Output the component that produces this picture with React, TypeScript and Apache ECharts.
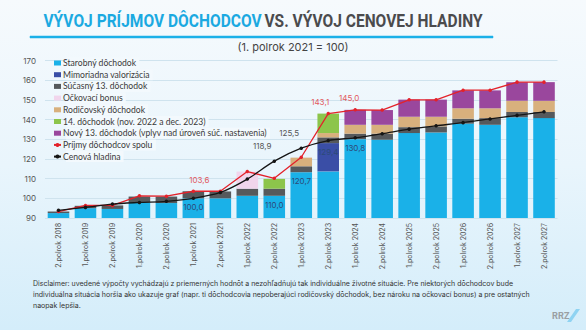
import React, { useEffect, useRef } from 'react';
import * as echarts from 'echarts';

const categories = [
  '2.polrok 2018', '1.polrok 2019', '2.polrok 2019', '1.polrok 2020', '2.polrok 2020',
  '1.polrok 2021', '2.polrok 2021', '1.polrok 2022', '2.polrok 2022', '1.polrok 2023',
  '2.polrok 2023', '1.polrok 2024', '2.polrok 2024', '1.polrok 2025', '2.polrok 2025',
  '1.polrok 2026', '2.polrok 2026', '1.polrok 2027', '2.polrok 2027',
];

const starobny = [92.5, 95.0, 94.6, 97.9, 97.6, 100.0, 100.0, 101.3, 101.3, 113.3, 113.7, 130.1, 129.8, 133.2, 133.5, 138.0, 137.4, 141.3, 140.8];
const mimoriadna = [0, 0, 0, 0, 0, 0, 0, 0, 0, 0, 14.4, 0, 0, 0, 0, 0, 0, 0, 0];
const sucasny13 = [0.8, 1.2, 1.8, 3.0, 3.3, 3.6, 3.5, 3.6, 3.6, 3.0, 2.9, 2.8, 3.1, 3.0, 3.1, 2.5, 3.4, 2.6, 3.1];
const ockovaci = [0, 0, 0, 0, 0, 0, 0, 8.7, 0, 0, 0, 0, 0, 0, 0, 0, 0, 0, 0];
const rodicovsky = [0, 0, 0, 0, 0, 0, 0, 0, 0, 4.4, 2.2, 4.5, 4.5, 5.3, 4.9, 5.3, 5.0, 5.7, 5.7];
const dochodok14 = [0, 0, 0, 0, 0, 0, 0, 0, 5.0, 0, 9.9, 0, 0, 0, 0, 0, 0, 0, 0];
const novy13 = [0, 0, 0, 0, 0, 0, 0, 0, 0, 0, 0, 7.6, 7.5, 8.7, 8.7, 9.1, 9.1, 9.5, 9.5];
const prijmySpolu = [93.3, 96.4, 96.4, 101.3, 101.1, 103.6, 103.6, 113.6, 110.2, 120.9, 143.1, 145.0, 144.9, 150.1, 150.1, 155.0, 155.0, 159.1, 159.1];
const cenovaHladina = [93.9, 95.4, 97.1, 97.9, 98.5, 100.0, 103.0, 109.8, 118.9, 125.5, 129.4, 130.8, 132.9, 135.2, 136.9, 138.5, 140.4, 142.2, 144.0];

// value labels shown on the chart
const starobnyLabels = ['', '', '', '', '', '100,0', '', '', '110,0', '120,7', '', '130,8', '', '', '', '', '', '', ''];
const mimoriadnaLabels = ['', '', '', '', '', '', '', '', '', '', '129,4', '', '', '', '', '', '', '', ''];
const prijmyLabelIdx = [5, 10, 11];
const cenovaLabelIdx = [8, 9];

const yTicks = { min: 90, max: 170, interval: 10 };

const disclaimer = [
  'Disclaimer: uvedené výpočty vychádzajú z priemerných hodnôt a nezohľadňujú tak individuálne životné situácie. Pre niektorých dôchodcov bude',
  'individuálna situácia horšia ako ukazuje graf (napr. ti dôchodcovia nepoberajúci rodičovský dôchodok, bez nároku na očkovací bonus) a pre ostatných',
  'naopak lepšia.',
];

const FONT = 'Inter, "Noto Sans", sans-serif';
const BG_TOP = '#f6fafd';
const fmt = (v: number) => v.toFixed(1).replace('.', ',');

export default function App() {
  const ref = useRef<HTMLDivElement>(null);
  useEffect(() => {
    if (!ref.current) return;
    const chart = echarts.init(ref.current, null, { renderer: 'svg' });

    const insideLabel = (texts: string[], vals: number[]) =>
      vals.map((v, i) =>
        texts[i]
          ? {
              value: v,
              label: {
                show: true,
                position: 'insideTop',
                distance: 5,
                formatter: texts[i],
                color: '#2c4a78',
                fontSize: 8,
                fontFamily: FONT,
              },
            }
          : v
      );

    const barSeries = (name: string, data: any[], color: string) => ({
      name,
      type: 'bar',
      stack: 'total',
      data,
      barCategoryGap: '20%',
      itemStyle: { color },
      emphasis: { disabled: true },
    });

    const legendNames = [
      'Starobný dôchodok',
      'Mimoriadna valorizácia',
      'Súčasný 13. dôchodok',
      'Očkovací bonus',
      'Rodičovský dôchodok',
      '14. dôchodok (nov. 2022 a dec. 2023)',
      'Nový 13. dôchodok (vplyv nad úroveň súč. nastavenia)',
      'Príjmy dôchodcov spolu',
      'Cenová hladina',
    ];

    const redOffset = (i: number) => (i === 5 ? [6, -2] : i === 10 ? [-8, -2] : [-6, -2]);

    const option: any = {
      animation: false,
      backgroundColor: {
        type: 'linear', x: 0, y: 0, x2: 0, y2: 1,
        colorStops: [
          { offset: 0, color: BG_TOP },
          { offset: 0.5, color: '#e9f5fc' },
          { offset: 1, color: '#d4edfa' },
        ],
      },
      textStyle: { fontFamily: FONT },
      graphic: {
        elements: [
          {
            type: 'rect', x: 30, y: 36, z: 50,
            shape: { x: 0, y: 0, width: 463, height: 2 },
            style: { fill: '#1ab0e8', stroke: '#1ab0e8', lineWidth: 0.5 },
          },
          {
            type: 'line', z: 50,
            shape: { x1: 30, y1: 37, x2: 493, y2: 37 },
            style: { stroke: '#1ab0e8', lineWidth: 2 },
          },
          {
            type: 'text', x: 263, y: 21, scaleX: 0.84, z: 20,
            style: {
              text: '{a|VÝVOJ PRÍJMOV DÔCHODCOV} {b|VS. VÝVOJ CENOVEJ HLADINY}',
              textAlign: 'center',
              textVerticalAlign: 'middle',
              rich: {
                a: { fontFamily: 'Roboto', fontWeight: 'bold', fontSize: 18.5, fill: '#1ba9e1', color: '#1ba9e1' },
                b: { fontFamily: 'Roboto', fontWeight: 'bold', fontSize: 18.5, fill: '#4b4b4d', color: '#4b4b4d' },
              },
            },
          },
          {
            type: 'text', x: 293, y: 47, z: 20,
            style: { text: '(1. polrok 2021 = 100)', fill: '#444', font: `11px ${FONT}`, textAlign: 'center', textVerticalAlign: 'middle' },
          },
          {
            type: 'text', x: 33, y: 278, z: 20,
            style: { text: disclaimer.join('\n'), fill: '#333', font: `7px ${FONT}`, lineHeight: 10.8 },
          },
          {
            type: 'text', x: 552, y: 311, z: 20,
            style: { text: 'RRZ', fill: '#9a9fa3', font: `bold 9px ${FONT}` },
          },
          {
            type: 'polygon', z: 20,
            shape: { points: [[567, 322], [571, 322], [580, 309], [576, 309]] },
            style: { fill: '#8fd3f2' },
          },
        ],
      },
      legend: {
        orient: 'vertical',
        left: 53,
        top: 57.5,
        itemWidth: 7,
        itemHeight: 5,
        itemGap: 0.7,
        padding: 0,
        textStyle: {
          fontSize: 8.6,
          lineHeight: 8,
          color: '#3a3a3a',
          fontFamily: 'Lato, Inter, sans-serif',
          backgroundColor: '#f3f9fd',
          padding: [1.5, 3, 1.5, -3],
        },
        data: legendNames.map((n, i) => (i < 7 ? { name: n, icon: 'rect' } : { name: n })),
      },
      grid: { left: 45, right: 28.5, top: 60.7, bottom: 112, containLabel: false },
      xAxis: {
        type: 'category',
        data: categories,
        axisLine: { show: false },
        axisTick: { show: false },
        axisLabel: { rotate: 90, fontSize: 7, color: '#555', margin: 5, fontFamily: FONT },
      },
      yAxis: {
        type: 'value',
        min: yTicks.min,
        max: yTicks.max,
        interval: yTicks.interval,
        axisLine: { show: false },
        axisTick: { show: false },
        axisLabel: { fontSize: 8, color: '#555', margin: 9, fontFamily: FONT },
        splitLine: { lineStyle: { color: '#cfe3ee', width: 1 } },
      },
      series: [
        barSeries(legendNames[0], insideLabel(starobnyLabels, starobny), '#1ab1e8'),
        barSeries(legendNames[1], insideLabel(mimoriadnaLabels, mimoriadna), '#3a4ea6'),
        barSeries(legendNames[2], sucasny13, '#56595c'),
        barSeries(legendNames[3], ockovaci, '#f1d5ec'),
        barSeries(legendNames[4], rodicovsky, '#d8b07d'),
        barSeries(legendNames[5], dochodok14, '#8cc54b'),
        barSeries(legendNames[6], novy13, '#9a479d'),
        {
          name: legendNames[7],
          type: 'line',
          data: prijmySpolu.map((v, i) =>
            prijmyLabelIdx.includes(i)
              ? { value: v, label: { show: true, position: 'top', distance: 4, offset: redOffset(i), formatter: fmt(v), color: '#e2595e', fontSize: 8, fontFamily: FONT } }
              : v
          ),
          symbol: 'circle',
          symbolSize: 3.5,
          itemStyle: { color: '#e3222b' },
          lineStyle: { color: '#e3222b', width: 1.3 },
          z: 4,
          emphasis: { disabled: true },
        },
        {
          name: legendNames[8],
          type: 'line',
          smooth: 0.3,
          data: cenovaHladina.map((v, i) =>
            cenovaLabelIdx.includes(i)
              ? { value: v, label: { show: true, position: 'top', distance: 4, offset: [-12, -5], formatter: fmt(v), color: '#555', fontSize: 8, fontFamily: FONT } }
              : v
          ),
          symbol: 'circle',
          symbolSize: 3.5,
          itemStyle: { color: '#151515' },
          lineStyle: { color: '#151515', width: 1.3 },
          z: 5,
          emphasis: { disabled: true },
        },
      ],
    };
    chart.setOption(option);
    return () => chart.dispose();
  }, []);
  return <div ref={ref} style={{ position: 'fixed', left: 0, top: 0, width: 586, height: 330 }} />;
}
